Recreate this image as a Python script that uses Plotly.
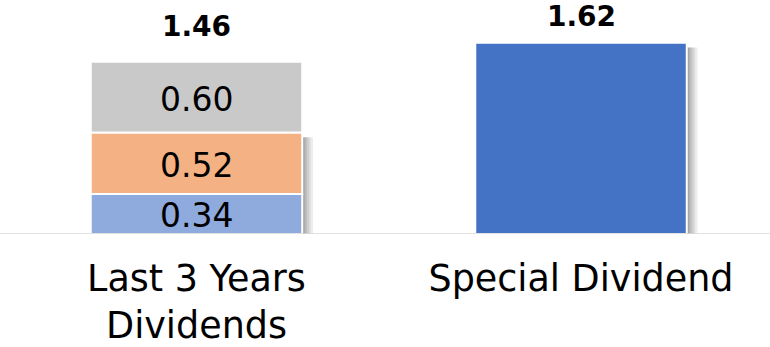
import plotly.graph_objects as go

categories = ["Last 3 Years<br>Dividends", "Special Dividend"]
segments = [0.34, 0.52, 0.60]       # Last 3 Years Dividends (stacked)
special = 1.62                      # Special Dividend
totals = [1.46, 1.62]

seg_colors = ["#8faadc", "#f4b183", "#c9c9c9"]
special_color = "#4472c4"
FONT = "DejaVu Sans"
xpos = [0, 1]
W = 0.55

fig = go.Figure()

# soft shadows behind the bars (blurred look via several translucent layers)
shadow_tops = [segments[0] + segments[1], special]
for dx in [0.028, 0.022, 0.017, 0.012, 0.008, 0.005]:
    fig.add_trace(go.Bar(x=xpos, y=[h - 0.02 for h in shadow_tops], width=W,
                         offset=-W / 2 + dx, base=-0.02,
                         marker=dict(color="rgba(0,0,0,0.07)", line=dict(width=0)),
                         hoverinfo="skip", showlegend=False))

# stacked segments
base = 0.0
mids = []
for v, col in zip(segments, seg_colors):
    fig.add_trace(go.Bar(x=[0], y=[v], base=[base], width=W, offset=-W / 2,
                         marker=dict(color=col, line=dict(color="white", width=2)),
                         showlegend=False))
    mids.append(base + v / 2)
    base += v

fig.add_trace(go.Bar(x=[1], y=[special], width=W, offset=-W / 2,
                     marker=dict(color=special_color, line=dict(color="white", width=2)),
                     showlegend=False))

# segment labels
for m, v in zip(mids, segments):
    fig.add_annotation(x=0, y=m, text=f"{v:.2f}", showarrow=False, yshift=-2,
                       font=dict(family=FONT, size=33, color="black"))

# totals
shifts = [17, 8]
for x, t, s in zip(xpos, totals, shifts):
    fig.add_annotation(x=x, y=t, text=f"<b>{t:.2f}</b>", showarrow=False,
                       yanchor="bottom", yshift=s,
                       font=dict(family=FONT, size=28, color="black"))

fig.update_layout(
    barmode="overlay",
    width=770, height=347,
    margin=dict(l=0, r=0, t=0, b=113, autoexpand=False),
    plot_bgcolor="white", paper_bgcolor="white",
    xaxis=dict(range=[-0.511, 1.4915], tickvals=xpos, ticktext=categories,
               showgrid=False, zeroline=False, showline=False, automargin=False,
               tickfont=dict(family=FONT, size=36.5, color="black"),
               ticks="", ticklabelstandoff=19),
    yaxis=dict(range=[0, 1.983], visible=False, showgrid=False, zeroline=False,
               automargin=False),
    shapes=[dict(type="line", xref="paper", yref="y", x0=0, x1=1, y0=0, y1=0,
                 line=dict(color="#d9d9d9", width=1.5), layer="above")],
)

fig.write_html("out.html")
